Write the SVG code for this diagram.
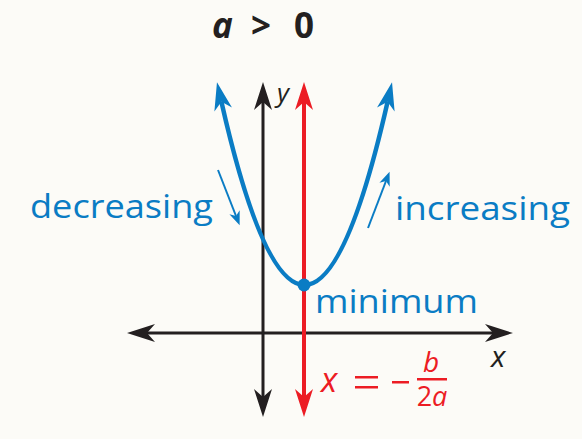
<svg xmlns="http://www.w3.org/2000/svg" width="582" height="439" viewBox="0 0 582 439">
<style>
.lbl{font-family:"Open Sans","Liberation Sans",sans-serif;}
.blue{fill:#0a7cc4;}
.red{fill:#ec1c24;}
.blk{fill:#231f20;}
</style>
<defs>
<marker id="ahK" markerUnits="userSpaceOnUse" markerWidth="30" markerHeight="20" viewBox="0 -10 30 20" refX="8" refY="0" orient="auto-start-reverse">
<path d="M28,0 L0,-9 L8,0 L0,9 Z" fill="#231f20"/>
</marker>
<marker id="ahR" markerUnits="userSpaceOnUse" markerWidth="30" markerHeight="20" viewBox="0 -10 30 20" refX="8" refY="0" orient="auto-start-reverse">
<path d="M28,0 L0,-9 L8,0 L0,9 Z" fill="#ec1c24"/>
</marker>
<marker id="ahB" markerUnits="userSpaceOnUse" markerWidth="30" markerHeight="20" viewBox="0 -10 30 20" refX="8" refY="0" orient="auto-start-reverse">
<path d="M28,0 L0,-9 L8,0 L0,9 Z" fill="#0a7cc4"/>
</marker>
<marker id="ahBs" markerUnits="userSpaceOnUse" markerWidth="16" markerHeight="12" viewBox="0 -6 16 12" refX="4" refY="0" orient="auto">
<path d="M14,0 L0,-5.5 L4,0 L0,5.5 Z" fill="#0a7cc4"/>
</marker>
</defs>
<rect x="0" y="0" width="582" height="439" fill="#fcfbf7"/>
<g id="connectors">
<line id="x-axis" x1="147" y1="333" x2="493" y2="333" stroke="#231f20" stroke-width="3" marker-start="url(#ahK)" marker-end="url(#ahK)"/>
<line id="y-axis" x1="263" y1="102" x2="263" y2="397" stroke="#231f20" stroke-width="3" marker-start="url(#ahK)" marker-end="url(#ahK)"/>
<line id="axis-sym" x1="304" y1="102" x2="304" y2="397" stroke="#ec1c24" stroke-width="4" marker-start="url(#ahR)" marker-end="url(#ahR)"/>
<path id="parabola" d="M221.4,101.8 Q304.5,468.2 387.6,101.8" fill="none" stroke="#0a7cc4" stroke-width="4.5" marker-start="url(#ahB)" marker-end="url(#ahB)"/>
<line id="dec-arrow" x1="218" y1="170" x2="236" y2="216" stroke="#0a7cc4" stroke-width="2" marker-end="url(#ahBs)"/>
<line id="inc-arrow" x1="368" y1="228" x2="386" y2="181" stroke="#0a7cc4" stroke-width="2" marker-end="url(#ahBs)"/>
</g>
<g id="vertex">
<circle cx="304" cy="285" r="6.5" fill="#0a7cc4"/>
</g>
<g id="title">
<text class="lbl blk" x="212" y="38" font-size="35" font-weight="bold" font-style="italic">a</text>
<text class="lbl blk" x="251" y="38" font-size="35" font-weight="bold">&gt;</text>
<text class="lbl blk" x="294" y="38" font-size="35" font-weight="bold">0</text>
</g>
<g id="label-y"><text class="lbl blk" x="277" y="102" font-size="26" font-style="italic">y</text></g>
<g id="label-x"><text class="lbl blk" x="491" y="367" font-size="30" font-style="italic">x</text></g>
<g id="label-decreasing"><text class="lbl blue" x="30" y="218" font-size="33" textLength="183" lengthAdjust="spacingAndGlyphs">decreasing</text></g>
<g id="label-increasing"><text class="lbl blue" x="395" y="220" font-size="33" textLength="175" lengthAdjust="spacingAndGlyphs">increasing</text></g>
<g id="label-minimum"><text class="lbl blue" x="315" y="313" font-size="33" textLength="163" lengthAdjust="spacingAndGlyphs">minimum</text></g>
<g id="label-formula">
<text class="lbl red" x="321" y="392" font-size="34" font-style="italic">x</text>
<rect x="355" y="376" width="23" height="2.5" class="red"/>
<rect x="355" y="386" width="23" height="2.5" class="red"/>
<rect x="392" y="381" width="17" height="2.5" class="red"/>
<rect x="417" y="378" width="30" height="2.5" class="red"/>
<text class="lbl red" x="431" y="372" font-size="28" font-style="italic" text-anchor="middle">b</text>
<text class="lbl red" x="432" y="406" font-size="27" text-anchor="middle">2<tspan font-style="italic">a</tspan></text>
</g>
</svg>
